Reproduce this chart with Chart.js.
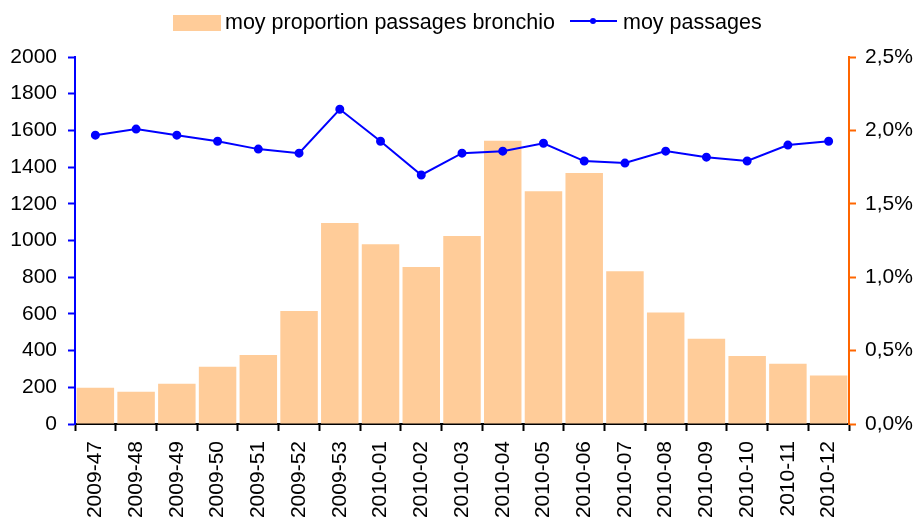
<!DOCTYPE html>
<html>
<head>
<meta charset="utf-8">
<script src="https://cdn.jsdelivr.net/npm/chart.js@4/dist/chart.umd.min.js"></script>
<style>
  body { margin: 0; background: #fff; }
  #wrap { width: 917px; height: 520px; }
</style>
</head>
<body>
<div id="wrap"><canvas id="chart" width="917" height="520"></canvas></div>
<script>
const weeks = ["2009-47", "2009-48", "2009-49", "2009-50", "2009-51", "2009-52", "2009-53",
  "2010-01", "2010-02", "2010-03", "2010-04", "2010-05", "2010-06", "2010-07", "2010-08",
  "2010-09", "2010-10", "2010-11", "2010-12"];

// proportion of bronchiolitis visits, in %
const proportionBronchio = [0.247, 0.22, 0.274, 0.39, 0.47, 0.77, 1.37, 1.225, 1.07, 1.28,
  1.93, 1.585, 1.71, 1.04, 0.76, 0.58, 0.464, 0.41, 0.33];

// average number of visits
const moyPassages = [1574, 1607, 1574, 1541, 1498, 1476, 1715, 1541, 1357, 1476,
  1487, 1530, 1433, 1422, 1487, 1454, 1433, 1520, 1541];

const leftTicks = [0, 200, 400, 600, 800, 1000, 1200, 1400, 1600, 1800, 2000];
const rightTicks = [0, 0.5, 1, 1.5, 2, 2.5];

const FONT = "'Liberation Sans', Arial, sans-serif";
const BAR_COLOR = "#FFCC99";
const LINE_COLOR = "#0000FF";
const RIGHT_COLOR = "#FF6600";

const legendPlugin = {
  id: "topLegend",
  afterDraw(chart) {
    const ctx = chart.ctx;
    const barSet = chart.data.datasets.find(d => d.type === "bar");
    const lineSet = chart.data.datasets.find(d => d.type === "line");
    ctx.save();
    ctx.font = "21.5px " + FONT;
    ctx.textBaseline = "middle";
    // bar item
    ctx.fillStyle = BAR_COLOR;
    ctx.fillRect(173, 15, 48, 16);
    ctx.fillStyle = "#000";
    ctx.fillText(barSet.label, 225, 23);
    // line item
    ctx.strokeStyle = LINE_COLOR;
    ctx.lineWidth = 2;
    ctx.beginPath();
    ctx.moveTo(570, 21);
    ctx.lineTo(617, 21);
    ctx.stroke();
    ctx.fillStyle = LINE_COLOR;
    ctx.beginPath();
    ctx.arc(593, 21, 3, 0, Math.PI * 2);
    ctx.fill();
    ctx.fillStyle = "#000";
    ctx.fillText(lineSet.label, 623, 23);
    ctx.restore();
  }
};

new Chart(document.getElementById("chart"), {
  data: {
    labels: weeks,
    datasets: [
      {
        type: "line",
        label: "moy passages",
        data: moyPassages,
        yAxisID: "y",
        borderColor: LINE_COLOR,
        backgroundColor: LINE_COLOR,
        borderWidth: 2,
        pointRadius: 3.5,
        pointHoverRadius: 3.5,
        tension: 0,
        order: 1
      },
      {
        type: "bar",
        label: "moy proportion passages bronchio",
        data: proportionBronchio,
        yAxisID: "y2",
        backgroundColor: BAR_COLOR,
        borderWidth: 0,
        barPercentage: 0.92,
        categoryPercentage: 1,
        order: 2
      }
    ]
  },
  options: {
    responsive: false,
    animation: false,
    layout: { padding: { top: 57, left: 0, right: 0, bottom: 0 } },
    plugins: {
      legend: { display: false },
      tooltip: { enabled: false }
    },
    scales: {
      x: {
        offset: true,
        grid: {
          offset: true,
          drawOnChartArea: false,
          drawTicks: true,
          tickLength: 7,
          tickWidth: 2,
          tickColor: "#000"
        },
        border: { color: "#000", width: 2 },
        ticks: {
          color: "#000",
          font: { family: FONT, size: 21 },
          minRotation: 90,
          maxRotation: 90,
          autoSkip: false,
          padding: 10
        },
        afterFit(scale) { scale.height = 96; }
      },
      y: {
        position: "left",
        min: 0,
        max: 2000,
        afterBuildTicks(scale) { scale.ticks = leftTicks.map(v => ({ value: v })); },
        grid: {
          drawOnChartArea: false,
          tickLength: 7,
          tickWidth: 2,
          tickColor: LINE_COLOR
        },
        border: { color: LINE_COLOR, width: 2 },
        ticks: {
          color: "#000",
          font: { family: FONT, size: 21 },
          padding: 11,
          callback: v => String(v)
        },
        afterFit(scale) { scale.width = 75; }
      },
      y2: {
        position: "right",
        min: 0,
        max: 2.5,
        afterBuildTicks(scale) { scale.ticks = rightTicks.map(v => ({ value: v })); },
        grid: {
          drawOnChartArea: false,
          tickLength: 7,
          tickWidth: 2,
          tickColor: RIGHT_COLOR
        },
        border: { color: RIGHT_COLOR, width: 2 },
        ticks: {
          color: "#000",
          font: { family: FONT, size: 21 },
          padding: 9,
          callback: v => v.toFixed(1).replace(".", ",") + "%"
        },
        afterFit(scale) { scale.width = 68; }
      }
    }
  },
  plugins: [legendPlugin]
});
</script>
</body>
</html>
